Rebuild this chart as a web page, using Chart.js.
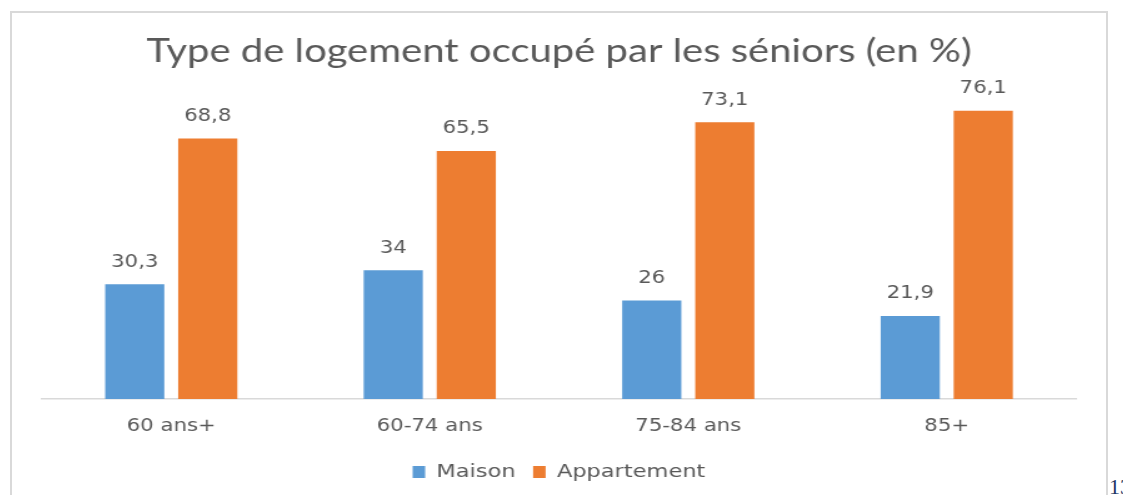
<!DOCTYPE html>
<html>
<head>
<meta charset="utf-8">
<script src="https://cdn.jsdelivr.net/npm/chart.js@4.4.0/dist/chart.umd.min.js"></script>
<style>
  html, body { margin: 0; padding: 0; background: #fff; overflow: hidden; }
  #frame {
    position: absolute; left: 10px; top: 11px;
    width: 1098px; height: 500px;
    box-sizing: border-box;
    border: 2px solid #d9d9d9;
  }
  /* the original picture is stretched sideways, so the chart is drawn narrow and widened */
  #wrap {
    position: absolute; left: 0; top: 0; width: 875.2px; height: 482px;
    transform: scaleX(1.25); transform-origin: 0 0;
  }
  #page {
    position: absolute; left: 1109px; top: 474px;
    font-family: "Liberation Serif", serif; font-size: 22px; color: #1f3864;
  }
</style>
</head>
<body>
<div id="frame"><div id="wrap"><canvas id="myChart"></canvas></div></div>
<div id="page">13</div>
<script>
// Chart data
const categories = ['60 ans+', '60-74 ans', '75-84 ans', '85+'];
const maison = [30.3, 34, 26, 21.9];
const appartement = [68.8, 65.5, 73.1, 76.1];
const seriesNames = ['Maison', 'Appartement'];

const textColor = '#595959';

// Draw the value above each bar, French decimal comma
const valueLabels = {
    id: 'valueLabels',
    afterDatasetsDraw(chart) {
        const ctx = chart.ctx;
        ctx.save();
        ctx.font = '17px "DejaVu Sans"';
        ctx.fillStyle = textColor;
        ctx.textAlign = 'center';
        ctx.textBaseline = 'middle';
        chart.data.datasets.forEach(function (ds, i) {
            chart.getDatasetMeta(i).data.forEach(function (bar, j) {
                ctx.fillText(String(ds.data[j]).replace('.', ','), bar.x, bar.y - 22);
            });
        });
        ctx.restore();
    }
};

window.onload = function () {
    const ctx = document.getElementById('myChart').getContext('2d');
    new Chart(ctx, {
        type: 'bar',
        data: {
            labels: categories,
            datasets: [{
                label: seriesNames[0],
                data: maison,
                backgroundColor: '#5b9bd5',
                categoryPercentage: 0.565,
                barPercentage: 0.81
            }, {
                label: seriesNames[1],
                data: appartement,
                backgroundColor: '#ed7d31',
                categoryPercentage: 0.565,
                barPercentage: 0.81
            }]
        },
        options: {
            responsive: true,
            maintainAspectRatio: false,
            animation: false,
            layout: { padding: { left: 24, right: 24, top: 0, bottom: 4 } },
            scales: {
                x: {
                    grid: { display: false, drawTicks: false },
                    border: { display: true, color: '#d9d9d9', width: 1.5 },
                    ticks: {
                        color: textColor,
                        padding: 17,
                        font: { family: 'DejaVu Sans', size: 17 }
                    },
                    afterFit: function (scale) { scale.height = 50; }
                },
                y: {
                    display: false,
                    min: 0,
                    max: 80
                }
            },
            plugins: {
                title: {
                    display: true,
                    text: 'Type de logement occupé par les séniors (en %)',
                    color: textColor,
                    font: { family: 'Lato', size: 32, weight: 'normal', lineHeight: 1.2 },
                    padding: { top: 19, bottom: 25.6 }
                },
                legend: {
                    position: 'bottom',
                    labels: {
                        color: textColor,
                        boxWidth: 10,
                        boxHeight: 12,
                        padding: 14,
                        font: { family: 'DejaVu Sans', size: 18 }
                    }
                },
                tooltip: { enabled: false }
            }
        },
        plugins: [valueLabels]
    });
};
</script>
</body>
</html>
